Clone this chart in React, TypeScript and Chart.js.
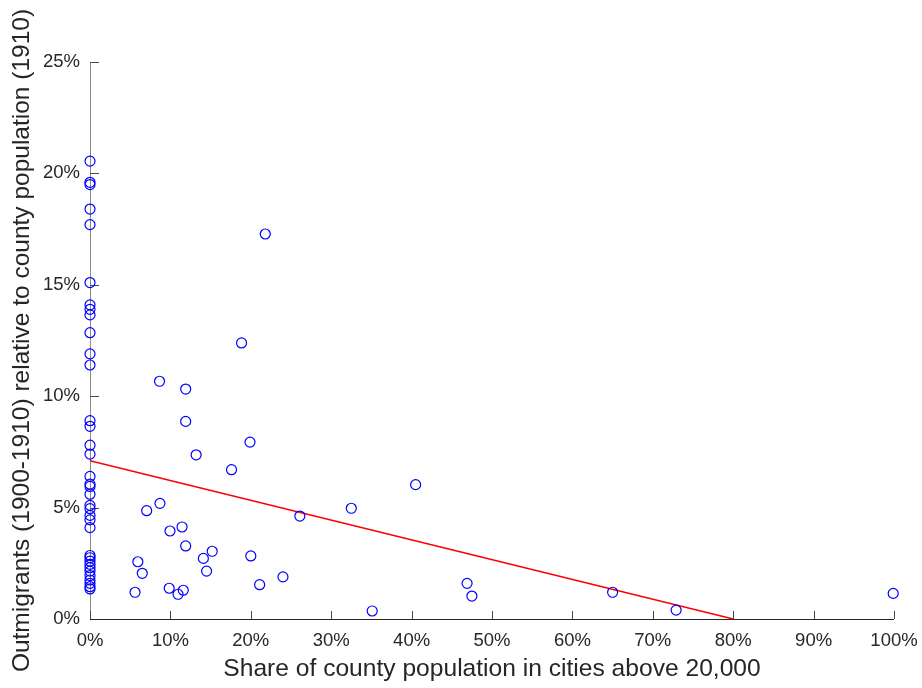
import React, { useEffect, useRef } from "react";
import { Chart, registerables } from "chart.js";

Chart.register(...registerables);

// Counties with no city above 20,000 (urban share 0%): outmigrant share, %
const ruralCountyOutmigrants = [
  20.55, 19.6, 19.5, 18.4, 17.7, 15.1, 14.1, 13.9, 13.65, 12.85, 11.9, 11.4,
  8.9, 8.65, 7.8, 7.4, 6.4, 6.05, 5.95, 5.6, 5.1, 4.95, 4.65, 4.45, 4.1,
  2.85, 2.75, 2.6, 2.45, 2.3, 2.15, 1.95, 1.75, 1.6, 1.45, 1.35,
];

// Counties with some urban population: urban share (%) and outmigrant share (%)
const urbanShare = [
  8.65, 11.9, 11.9, 19.9, 13.2, 17.6, 8.7, 7.05, 26.1, 11.45, 9.95, 11.9,
  15.2, 14.1, 20.0, 5.95, 14.5, 6.5, 24.0, 21.1, 5.6, 9.85, 11.6, 10.95,
  21.8, 18.85, 40.5, 32.5, 35.1, 46.9, 47.5, 65.0, 72.9, 99.9,
];
const urbanCountyOutmigrants = [
  10.67, 10.32, 8.87, 7.94, 7.37, 6.7, 5.19, 4.86, 4.62, 4.13, 3.95, 3.28,
  3.04, 2.72, 2.83, 2.57, 2.15, 2.05, 1.89, 1.54, 1.2, 1.38, 1.29, 1.11,
  17.28, 12.39, 6.03, 4.97, 0.36, 1.6, 1.03, 1.2, 0.4, 1.15,
];

// Least-squares fit line endpoints (urban share %, outmigrant share %)
const fitX = [0, 80];
const fitY = [7.1, 0];

const xTicks = [0, 10, 20, 30, 40, 50, 60, 70, 80, 90, 100];
const yTicks = [0, 5, 10, 15, 20, 25];

const xTitle = "Share of county population in cities above 20,000";
const yTitle = "Outmigrants (1900-1910) relative to county population (1910)";

const TEXT = "#262626";
const FONT = "'Liberation Sans', Arial, Helvetica, sans-serif";

// Axis lines and inward-facing tick marks
const axesPlugin = {
  id: "inwardAxes",
  beforeDatasetsDraw(chart: any) {
    const { ctx, chartArea } = chart;
    const xs = chart.scales.x;
    const ys = chart.scales.y;
    const x0 = xs.getPixelForValue(0);
    const y0 = ys.getPixelForValue(0);
    ctx.save();
    ctx.lineWidth = 1;
    // y axis
    ctx.strokeStyle = "#8a8a8a";
    ctx.beginPath();
    ctx.moveTo(Math.round(x0) + 0.5, chartArea.top);
    ctx.lineTo(Math.round(x0) + 0.5, y0);
    ctx.stroke();
    ctx.strokeStyle = "#4a4a4a";
    ctx.beginPath();
    yTicks.forEach((v) => {
      const py = Math.round(ys.getPixelForValue(v)) + 0.5;
      ctx.moveTo(x0, py);
      ctx.lineTo(x0 + 9, py);
    });
    ctx.stroke();
    // x axis
    ctx.strokeStyle = TEXT;
    ctx.beginPath();
    ctx.moveTo(chartArea.left, Math.round(y0) + 0.5);
    ctx.lineTo(chartArea.right, Math.round(y0) + 0.5);
    ctx.stroke();
    ctx.strokeStyle = "#4a4a4a";
    ctx.beginPath();
    xTicks.forEach((v) => {
      const px = Math.round(xs.getPixelForValue(v)) + 0.5;
      ctx.moveTo(px, y0);
      ctx.lineTo(px, y0 - 8);
    });
    ctx.stroke();
    ctx.restore();
  },
};

export default function App() {
  const canvasRef = useRef<HTMLCanvasElement | null>(null);

  useEffect(() => {
    const canvas = canvasRef.current;
    if (!canvas) return;

    const points = [
      ...ruralCountyOutmigrants.map((y) => ({ x: 0, y })),
      ...urbanShare.map((x, i) => ({ x, y: urbanCountyOutmigrants[i] })),
    ];
    const fitLine = fitX.map((x, i) => ({ x, y: fitY[i] }));

    const chart = new Chart(canvas, {
      type: "scatter",
      data: {
        datasets: [
          {
            type: "line",
            data: fitLine,
            borderColor: "#ff0000",
            borderWidth: 1.5,
            pointRadius: 0,
            fill: false,
            clip: false,
            order: 2,
          } as any,
          {
            data: points,
            pointStyle: "circle",
            pointRadius: 5,
            pointBorderWidth: 1.2,
            pointBorderColor: "#0000ff",
            pointBackgroundColor: "rgba(0,0,0,0)",
            clip: false,
            order: 1,
          } as any,
        ],
      },
      options: {
        animation: false,
        responsive: false,
        maintainAspectRatio: false,
        events: [],
        layout: { padding: { top: 62, right: 28, left: 0, bottom: 0 } },
        plugins: {
          legend: { display: false },
          tooltip: { enabled: false },
        },
        scales: {
          x: {
            type: "linear",
            min: 0,
            max: 100,
            afterBuildTicks: (s: any) => {
              s.ticks = xTicks.map((value) => ({ value }));
            },
            afterFit: (s: any) => {
              s.height = 69;
              s.paddingLeft = 0;
              s.paddingRight = 0;
            },
            grid: { display: false, drawTicks: false },
            border: { display: false },
            ticks: {
              color: TEXT,
              padding: 11,
              maxRotation: 0,
              font: { family: FONT, size: 18.5 },
              callback: (v: any) => `${v}%`,
            },
            title: {
              display: true,
              text: xTitle,
              color: TEXT,
              padding: { top: 0, bottom: 4 },
              font: { family: FONT, size: 24.6 },
            },
          },
          y: {
            type: "linear",
            min: 0,
            max: 25,
            afterBuildTicks: (s: any) => {
              s.ticks = yTicks.map((value) => ({ value }));
            },
            afterFit: (s: any) => {
              s.width = 90;
              s.paddingTop = 0;
              s.paddingBottom = 0;
            },
            grid: { display: false, drawTicks: false },
            border: { display: false },
            ticks: {
              color: TEXT,
              padding: 10,
              font: { family: FONT, size: 18.5 },
              callback: (v: any) => `${v}%`,
            },
            title: {
              display: true,
              text: yTitle,
              color: TEXT,
              padding: { top: 8, bottom: 0 },
              font: { family: FONT, size: 24.5 },
            },
          },
        },
      },
      plugins: [axesPlugin],
    });

    return () => chart.destroy();
  }, []);

  return (
    <div style={{ position: "fixed", left: 0, top: 0, width: 922, height: 688, background: "#fff" }}>
      <canvas ref={canvasRef} width={922} height={688} style={{ display: "block" }} />
    </div>
  );
}
